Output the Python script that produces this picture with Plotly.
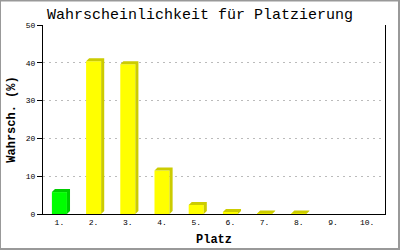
import plotly.graph_objects as go

places = ["1.", "2.", "3.", "4.", "5.", "6.", "7.", "8.", "9.", "10."]
probs = [5.8, 40.4, 39.6, 11.5, 2.4, 0.5, 0.1, 0.1, 0.0, 0.0]
front_colors = ["#00ff00"] + ["#ffff00"] * 9
side_colors = ["#00cc00"] + ["#cccc00"] * 9
y_ticks = [0, 10, 20, 30, 40, 50]

MONO = "Liberation Mono, DejaVu Sans Mono, monospace"
W = 0.44   # bar width (x units)
DX = 0.09  # depth offset in x units
DY = 0.8   # depth offset in y units

xs = list(range(1, len(places) + 1))
fig = go.Figure()

# depth faces (top + side) for each bar
for x, v, c in zip(xs, probs, side_colors):
    if v <= 0:
        continue
    l, r = x - W / 2, x + W / 2
    px = [l, l + DX, r + DX, r + DX, r, r, l]
    py = [v, v + DY, v + DY, DY, 0, v, v]
    fig.add_trace(go.Scatter(x=px, y=py, fill="toself", fillcolor=c, mode="none",
                             hoverinfo="skip", showlegend=False))

fig.add_trace(go.Bar(x=xs, y=probs, width=W, marker=dict(color=front_colors, line=dict(width=0)),
                     showlegend=False))

fig.update_layout(
    width=400, height=250,
    margin=dict(l=43, r=15, t=25, b=36, autoexpand=False),
    paper_bgcolor="white", plot_bgcolor="white",
    title=dict(text="Wahrscheinlichkeit für Platzierung", x=0.5, xanchor="center",
               y=0.944, yanchor="middle", font=dict(family=MONO, size=15, color="black")),
    xaxis=dict(range=[0.52, 10.52], tickvals=xs, ticktext=places, showgrid=False,
               zeroline=False, showline=True, linecolor="black", linewidth=1,
               ticks="", automargin=False, tickfont=dict(family=MONO, size=8, color="black"),
               title=dict(text="<b>Platz</b>", font=dict(family=MONO, size=12, color="black"),
                          standoff=9)),
    yaxis=dict(range=[0, 50], tickvals=y_ticks, showgrid=True, gridcolor="#bbbbbb",
               griddash="2px,4px", zeroline=False, showline=True, linecolor="black",
               linewidth=1, mirror=True, ticks="outside", ticklen=5, tickcolor="black",
               automargin=False, tickfont=dict(family=MONO, size=8, color="black"),
               title=dict(text="<b>Wahrsch. (%)</b>", font=dict(family=MONO, size=12, color="black"),
                          standoff=7)),
    shapes=[dict(type="rect", xref="paper", yref="paper", x0=-43/342, x1=1+14/342,
                 y0=-35/189, y1=1+24.5/189, line=dict(color="#999999", width=2))],
)

fig.write_html("out.html")
